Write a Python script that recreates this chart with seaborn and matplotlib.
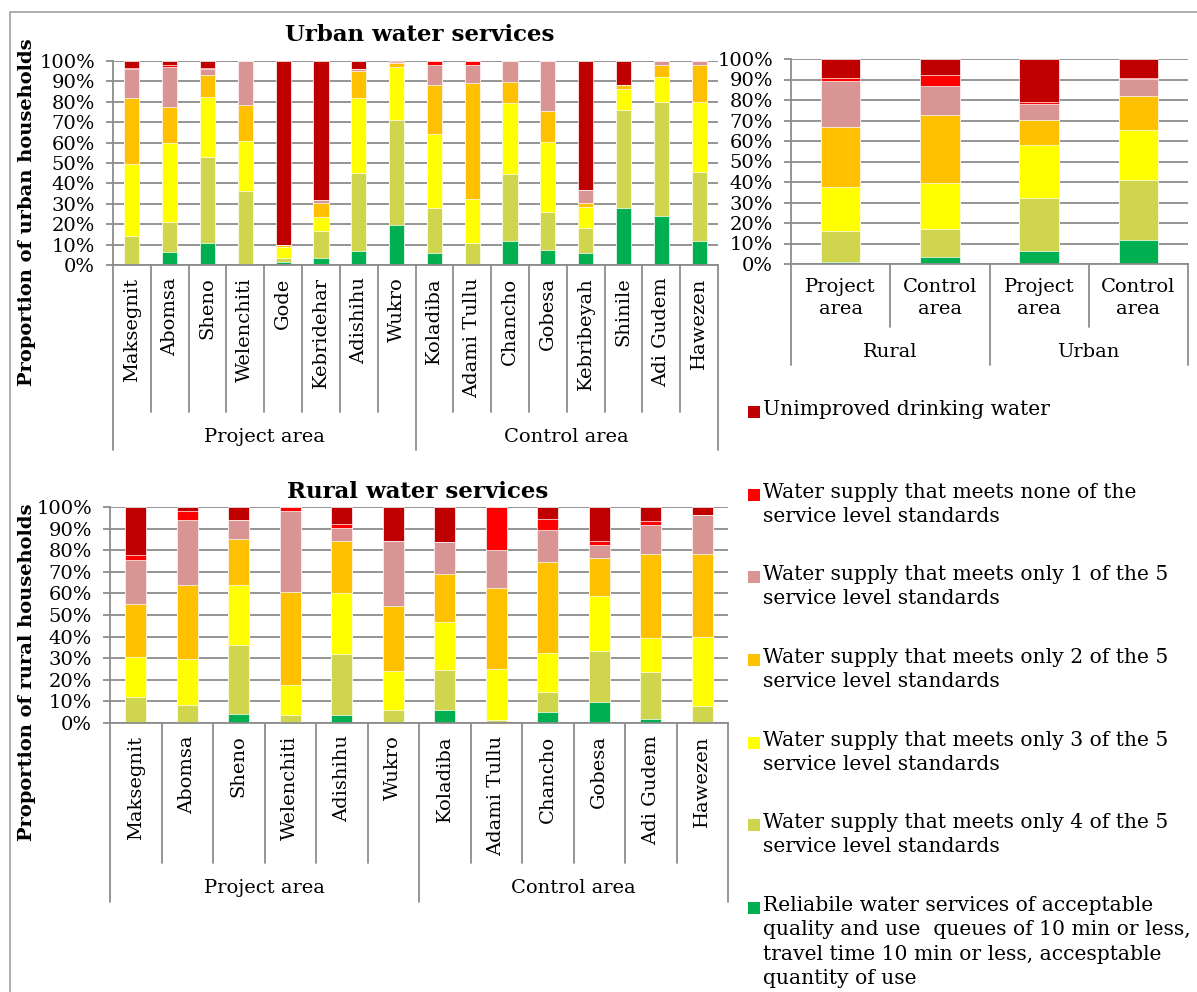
import numpy as np
import pandas as pd
import matplotlib
matplotlib.use("Agg")
import matplotlib.pyplot as plt
import matplotlib.transforms as mtransforms
from matplotlib.patches import Rectangle
import seaborn as sns

# ── Data (percent of households per service level) ─────────────────────────
urban_sites = ["Maksegnit", "Abomsa", "Sheno", "Welenchiti", "Gode", "Kebridehar",
               "Adishihu", "Wukro", "Koladiba", "Adami Tullu", "Chancho", "Gobesa",
               "Kebribeyah", "Shinile", "Adi Gudem", "Hawezen"]
urban_green = [0, 6.5, 10.6, 0.7, 1.6, 3.6, 6.9, 19.8, 5.7, 0, 11.9, 7.4, 5.7, 27.8, 24.2, 11.9]
urban_four = [14.0, 14.7, 42.5, 35.4, 2.0, 13.1, 38.0, 51.3, 22.1, 10.6, 32.9, 18.7, 12.6, 48.3, 55.5, 33.9]
urban_three = [35.5, 38.4, 29.3, 24.7, 5.4, 6.8, 37.1, 26.0, 36.4, 21.9, 34.8, 34.2, 10.3, 10.2, 12.3, 34.3]
urban_two = [32.5, 17.9, 10.7, 17.6, 0.6, 7.1, 13.1, 2.1, 23.9, 56.7, 10.3, 15.2, 2.0, 1.8, 6.0, 17.9]
urban_one = [14.0, 19.7, 3.0, 21.6, 0, 1.1, 1.0, 0, 9.9, 8.8, 10.1, 24.5, 6.0, 0, 2.0, 2.0]
urban_none = [0.7, 0.7, 0.6, 0, 0, 0, 0, 0.3, 2.0, 2.0, 0, 0, 0, 0, 0, 0]
urban_unimp = [3.3, 2.1, 3.3, 0, 90.4, 68.3, 3.9, 0.5, 0, 0, 0, 0, 63.4, 11.9, 0, 0]
urban_groups = [("Project area", 0, 8), ("Control area", 8, 16)]

rural_sites = ["Maksegnit", "Abomsa", "Sheno", "Welenchiti", "Adishihu", "Wukro",
               "Koladiba", "Adami Tullu", "Chancho", "Gobesa", "Adi Gudem", "Hawezen"]
rural_green = [0, 0, 4.0, 0, 3.7, 0, 5.9, 0, 5.1, 9.6, 2.0, 0]
rural_four = [12.0, 8.3, 32.1, 3.9, 28.2, 6.0, 18.5, 1.5, 9.3, 23.6, 21.8, 7.9]
rural_three = [18.6, 21.3, 27.8, 13.7, 28.1, 17.9, 22.4, 23.3, 18.2, 25.4, 15.6, 32.1]
rural_two = [24.6, 34.3, 21.4, 43.2, 24.1, 30.1, 22.3, 37.9, 42.1, 17.8, 39.0, 38.2]
rural_one = [20.4, 29.9, 8.5, 37.3, 6.0, 30.1, 14.7, 17.5, 14.5, 6.0, 13.1, 17.9]
rural_none = [2.0, 4.2, 0, 1.9, 2.2, 0, 0, 19.8, 5.4, 1.9, 2.2, 0]
rural_unimp = [22.4, 2.0, 6.2, 0, 7.7, 15.9, 16.2, 0, 5.4, 15.7, 6.3, 3.9]
rural_groups = [("Project area", 0, 6), ("Control area", 6, 12)]

summ_keys = ["rural_project", "rural_control", "urban_project", "urban_control"]
summ_labels = ["Project\narea", "Control\narea", "Project\narea", "Control\narea"]
summ_green = [1.1, 3.6, 6.4, 11.9]
summ_four = [15.0, 13.4, 26.0, 29.3]
summ_three = [21.4, 22.7, 25.6, 24.4]
summ_two = [29.3, 32.9, 12.4, 16.3]
summ_one = [22.3, 14.4, 7.8, 8.2]
summ_none = [1.6, 5.3, 0.6, 0.6]
summ_unimp = [9.3, 7.7, 21.2, 9.3]
summ_groups = [("Rural", 0, 2), ("Urban", 2, 4)]

# bottom -> top
colors = ["#00B050", "#CFD64E", "#FFFF00", "#FFC000", "#D99594", "#FF0000", "#C00000"]
legend_labels = [
    "Reliabile water services of acceptable\nquality and use  queues of 10 min or less,\ntravel time 10 min or less, accesptable\nquantity of use",
    "Water supply that meets only 4 of the 5\nservice level standards",
    "Water supply that meets only 3 of the 5\nservice level standards",
    "Water supply that meets only 2 of the 5\nservice level standards",
    "Water supply that meets only 1 of the 5\nservice level standards",
    "Water supply that meets none of the\nservice level standards",
    "Unimproved drinking water",
]

sns.set_style("white")
plt.rcParams["font.family"] = ["DejaVu Serif"]
plt.rcParams["text.color"] = "black"
plt.rcParams["xtick.color"] = "black"
plt.rcParams["ytick.color"] = "black"
GRID = "#8C8C8C"
FS = 14

W, H = 1197, 992
fig = plt.figure(figsize=(W / 100, H / 100), dpi=100)


def px_axes(left, top, right, bottom):
    return fig.add_axes([left / W, 1 - bottom / H, (right - left) / W, (bottom - top) / H])


def stacked(ax, keys, parts):
    df = pd.DataFrame({"site": keys})
    tops = np.cumsum(np.array(parts, dtype=float), axis=0)
    for k in reversed(range(len(parts))):
        df["top"] = tops[k]
        sns.barplot(data=df, x="site", y="top", order=keys, color=colors[k],
                    saturation=1, width=0.4, errorbar=None, ax=ax,
                    edgecolor="white", linewidth=0.5)
    ax.set_xlabel("")
    ax.set_ylabel("")
    ax.set_xlim(-0.5, len(keys) - 0.5)
    ax.set_ylim(0, 100)
    ax.set_yticks(range(0, 101, 10))
    ax.set_yticklabels([f"{v}%" for v in range(0, 101, 10)])
    ax.yaxis.grid(True, color=GRID, linewidth=1.3)
    ax.set_axisbelow(True)
    for s in ["top", "right"]:
        ax.spines[s].set_visible(False)
    for s in ["left", "bottom"]:
        ax.spines[s].set_color(GRID)
        ax.spines[s].set_linewidth(1.3)
    ax.tick_params(axis="y", length=5, width=1.3, color=GRID, labelcolor="black",
                   labelsize=FS, pad=8, left=True)
    ax.tick_params(axis="x", length=0, labelsize=FS, labelcolor="black")


def separators(ax, n, groups, tick_px, group_px, label_px):
    h_px = ax.get_position().height * H
    tr = mtransforms.blended_transform_factory(ax.transData, ax.transAxes)
    group_edges = {g[1] for g in groups} | {g[2] for g in groups}
    for b in range(n + 1):
        depth = group_px if b in group_edges else tick_px
        ax.plot([b - 0.5, b - 0.5], [0, -depth / h_px], color=GRID, lw=1.3,
                transform=tr, clip_on=False)
    for name, a, b in groups:
        ax.text((a + b - 1) / 2, -label_px / h_px, name, transform=tr,
                ha="center", va="center", fontsize=FS, color="black")


# ── Urban ──────────────────────────────────────────────────────────────────
ax_u = px_axes(113, 61, 718, 265)
stacked(ax_u, urban_sites, [urban_green, urban_four, urban_three, urban_two,
                            urban_one, urban_none, urban_unimp])
ax_u.set_xticks(range(len(urban_sites)))
ax_u.set_xticklabels(urban_sites, rotation=90, va="top")
ax_u.tick_params(axis="x", pad=9)
separators(ax_u, len(urban_sites), urban_groups, 147, 185, 172)

# ── Summary ────────────────────────────────────────────────────────────────
ax_s = px_axes(791, 59, 1188, 264)
stacked(ax_s, summ_keys, [summ_green, summ_four, summ_three, summ_two,
                          summ_one, summ_none, summ_unimp])
ax_s.set_xticks(range(len(summ_keys)))
ax_s.set_xticklabels(summ_labels, linespacing=1.3)
ax_s.tick_params(axis="x", pad=10)
separators(ax_s, len(summ_keys), summ_groups, 63, 101, 88)

# ── Rural ──────────────────────────────────────────────────────────────────
ax_r = px_axes(110, 507, 728, 723)
stacked(ax_r, rural_sites, [rural_green, rural_four, rural_three, rural_two,
                            rural_one, rural_none, rural_unimp])
ax_r.set_xticks(range(len(rural_sites)))
ax_r.set_xticklabels(rural_sites, rotation=90, va="top")
ax_r.tick_params(axis="x", pad=9)
separators(ax_r, len(rural_sites), rural_groups, 140, 179, 165)

# ── Titles and axis labels ─────────────────────────────────────────────────
fig.text(420 / W, 1 - 35 / H, "Urban water services", ha="center", va="center",
         fontsize=16.5, fontweight="bold")
fig.text(418 / W, 1 - 492 / H, "Rural water services", ha="center", va="center",
         fontsize=16.5, fontweight="bold")
fig.text(27 / W, 1 - 212 / H, "Proportion of urban households", rotation=90,
         ha="center", va="center", fontsize=14, fontweight="bold")
fig.text(27 / W, 1 - 672 / H, "Proportion of rural households", rotation=90,
         ha="center", va="center", fontsize=14, fontweight="bold")

# ── Legend (top = unimproved, bottom = reliable) ───────────────────────────
legend_y = [412, 495, 577, 660, 743, 825, 908]
for y, col, lab in zip(legend_y, colors[::-1], legend_labels[::-1]):
    fig.add_artist(Rectangle((748 / W, 1 - (y + 6) / H), 12 / W, 12 / H,
                             transform=fig.transFigure, facecolor=col, edgecolor="none"))
    fig.text(763 / W, 1 - (y - 12) / H, lab, ha="left", va="top",
             fontsize=14.6, linespacing=1.35)

# outer frame
fig.add_artist(Rectangle((10 / W, -0.01), 1.0, 1 - 12 / H + 0.01,
                         transform=fig.transFigure, fill=False,
                         edgecolor="#A0A0A0", linewidth=1.2))

fig.savefig("out.png", dpi=100)
